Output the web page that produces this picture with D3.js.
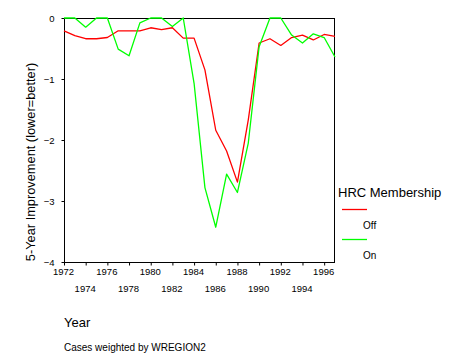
<!DOCTYPE html>
<html><head><meta charset="utf-8">
<script src="https://cdn.jsdelivr.net/npm/d3@7/dist/d3.min.js"></script>
<style>
html,body{margin:0;padding:0;background:#fff;}
svg{display:block;font-family:"Liberation Sans",Arial,sans-serif;}
</style></head>
<body><svg id="c" width="455" height="364"></svg>
<script>
const years = [1972,1973,1974,1975,1976,1977,1978,1979,1980,1981,1982,1983,1984,1985,1986,1987,1988,1989,1990,1991,1992,1993,1994,1995,1996,1997];
const offValues = [-0.21,-0.29,-0.34,-0.34,-0.32,-0.21,-0.21,-0.21,-0.16,-0.19,-0.16,-0.33,-0.33,-0.85,-1.84,-2.18,-2.69,-1.67,-0.41,-0.34,-0.45,-0.32,-0.28,-0.36,-0.27,-0.30];
const onValues = [0,0,-0.15,0,0,-0.51,-0.62,-0.08,0,0,-0.14,0,-1.07,-2.78,-3.43,-2.56,-2.86,-2.05,-0.47,0,0,-0.28,-0.41,-0.26,-0.32,-0.64];
const xTicks = [1972,1974,1976,1978,1980,1982,1984,1986,1988,1990,1992,1994,1996];
const yTicks = [-4,-3,-2,-1,0];
const seriesNames = ["Off","On"];
const seriesColors = ["#ff0000","#00ff00"];

const svg = d3.select("#c");
const x = d3.scaleLinear().domain([1972,1997]).range([64,335]);
const y = d3.scaleLinear().domain([-4,0]).range([262,18]);

// x axis
const gx = svg.append("g").attr("transform","translate(0,262.5)")
  .call(d3.axisBottom(x).tickValues(xTicks).tickSize(3).tickSizeOuter(0).tickFormat(d3.format("d")));
gx.select(".domain").remove();
gx.selectAll("text").attr("font-size","9.5px").attr("font-family","Liberation Sans, Arial, sans-serif")
  .attr("dy",null)
  .attr("y",(d,i)=> i%2===0 ? 12.5 : 29.5)
  .attr("dx","-1");

// y axis
const gy = svg.append("g").attr("transform","translate(64.5,0)")
  .call(d3.axisLeft(y).tickValues(yTicks).tickSize(3).tickPadding(7).tickSizeOuter(0).tickFormat(d3.format("d")));
gy.select(".domain").remove();
gy.selectAll("text").attr("font-size","9.5px").attr("font-family","Liberation Sans, Arial, sans-serif");

// frame
svg.append("rect").attr("x",x(1972)+0.5).attr("y",y(0)+0.5)
  .attr("width",x(1997)-x(1972)-1).attr("height",y(-4)-y(0))
  .attr("fill","none").attr("stroke","#000").attr("stroke-width",1);

// lines
const line = d3.line().x((d,i)=>x(years[i])).y(d=>y(d));
[offValues,onValues].forEach((vals,k)=>{
  svg.append("path").datum(vals).attr("d",line)
    .attr("fill","none").attr("stroke",seriesColors[k]).attr("stroke-width",1.3)
    .attr("stroke-linejoin","round");
});

// axis titles
svg.append("text").attr("transform","translate(35,162) rotate(-90)")
  .attr("text-anchor","middle").attr("font-size","12.8px").text("5-Year Improvement (lower=better)");
svg.append("text").attr("x",64).attr("y",327).attr("font-size","13px").text("Year");
svg.append("text").attr("x",64).attr("y",351).attr("font-size","10px").text("Cases weighted by WREGION2");

// legend
svg.append("text").attr("x",338).attr("y",197).attr("font-size","13px").text("HRC Membership");
seriesNames.forEach((n,k)=>{
  const ly = 209.5 + k*30;
  svg.append("line").attr("x1",342).attr("x2",367).attr("y1",ly).attr("y2",ly)
    .attr("stroke",seriesColors[k]).attr("stroke-width",1.3);
  svg.append("text").attr("x",363).attr("y",ly+19.5).attr("font-size","10px").text(n);
});
</script></body></html>
